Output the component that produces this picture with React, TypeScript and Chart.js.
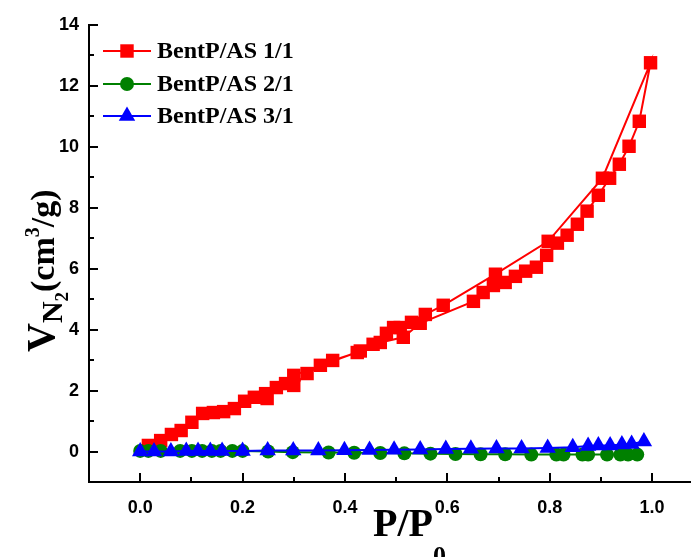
import React, { useEffect, useRef } from 'react';
import { Chart, registerables } from 'chart.js';

Chart.register(...registerables);

// ---- data ----
const seriesNames = ['BentP/AS 1/1', 'BentP/AS 2/1', 'BentP/AS 3/1'];
const seriesColors = ['#ff0000', '#008000', '#0000ff'];

const xMajorTicks = [0, 0.2, 0.4, 0.6, 0.8, 1.0];
const xMinorTicks = [0.1, 0.3, 0.5, 0.7, 0.9];
const yMajorTicks = [0, 2, 4, 6, 8, 10, 12, 14];
const yMinorTicks = [1, 3, 5, 7, 9, 11, 13];

// BentP/AS 1/1 adsorption branch
const redAdsX = [0.016, 0.04, 0.061, 0.08, 0.101, 0.122, 0.143, 0.163, 0.184, 0.204, 0.223, 0.248, 0.266, 0.284, 0.3, 0.326, 0.352, 0.376, 0.424, 0.455, 0.469, 0.514, 0.547, 0.651, 0.67, 0.69, 0.713, 0.733, 0.753, 0.774, 0.794, 0.815, 0.834, 0.854, 0.873, 0.895, 0.917, 0.936, 0.955, 0.975, 0.997];
const redAdsY = [0.2, 0.36, 0.56, 0.69, 0.96, 1.25, 1.28, 1.31, 1.41, 1.65, 1.78, 1.74, 2.1, 2.23, 2.17, 2.56, 2.83, 2.99, 3.25, 3.52, 3.58, 3.75, 4.21, 4.93, 5.22, 5.45, 5.55, 5.75, 5.92, 6.05, 6.44, 6.84, 7.1, 7.46, 7.89, 8.41, 8.97, 9.43, 10.02, 10.84, 12.76];
// BentP/AS 1/1 desorption branch
const redDesX = [0.903, 0.797, 0.694, 0.592, 0.557, 0.53, 0.508, 0.495, 0.481, 0.43, 0.3, 0.245];
const redDesY = [8.97, 6.9, 5.82, 4.8, 4.5, 4.24, 4.07, 4.07, 3.88, 3.3, 2.5, 1.9];

// BentP/AS 2/1
const greenX = [0.0, 0.016, 0.04, 0.078, 0.101, 0.121, 0.14, 0.157, 0.18, 0.2, 0.25, 0.298, 0.368, 0.418, 0.469, 0.516, 0.567, 0.616, 0.665, 0.713, 0.764, 0.813, 0.827, 0.864, 0.875, 0.912, 0.938, 0.953, 0.971];
const greenY = [0.02, 0.02, 0.02, 0.02, 0.02, 0.02, 0.02, 0.02, 0.02, 0.02, 0.0, -0.02, -0.03, -0.04, -0.05, -0.06, -0.07, -0.08, -0.09, -0.09, -0.1, -0.1, -0.1, -0.1, -0.1, -0.1, -0.1, -0.1, -0.1];

// BentP/AS 3/1
const blueX = [0.0, 0.027, 0.06, 0.09, 0.113, 0.137, 0.16, 0.2, 0.249, 0.299, 0.348, 0.399, 0.448, 0.496, 0.547, 0.597, 0.646, 0.696, 0.745, 0.796, 0.845, 0.875, 0.895, 0.918, 0.941, 0.96, 0.984];
const blueY = [0.0, 0.0, 0.0, 0.02, 0.02, 0.02, 0.02, 0.02, 0.03, 0.03, 0.03, 0.04, 0.05, 0.06, 0.07, 0.08, 0.09, 0.1, 0.1, 0.12, 0.14, 0.18, 0.2, 0.2, 0.23, 0.25, 0.33];

const zip = (xs: number[], ys: number[]) => xs.map((x, i) => ({ x, y: ys[i] }));

const SERIF = '"Liberation Serif", "Times New Roman", serif';
const SANS = '"Liberation Sans", Arial, sans-serif';

function drawMarker(ctx: CanvasRenderingContext2D, style: string, x: number, y: number, r: number) {
  ctx.beginPath();
  if (style === 'rect') {
    const s = Math.SQRT1_2 * r;
    ctx.rect(x - s, y - s, 2 * s, 2 * s);
  } else if (style === 'circle') {
    ctx.arc(x, y, r, 0, Math.PI * 2);
  } else {
    ctx.moveTo(x, y - r);
    ctx.lineTo(x + Math.sin((2 * Math.PI) / 3) * r, y + r / 2);
    ctx.lineTo(x - Math.sin((2 * Math.PI) / 3) * r, y + r / 2);
    ctx.closePath();
  }
  ctx.fill();
}

const pointStyles = ['rect', 'circle', 'triangle'];
const pointRadii = [9.5, 7, 9.5];

const inwardTicks = {
  id: 'inwardTicks',
  afterDraw(chart: any) {
    const { ctx, chartArea, scales } = chart;
    ctx.save();
    ctx.strokeStyle = '#000';
    ctx.lineWidth = 2;
    const xs = scales.x, ys = scales.y;
    const tick = (vals: number[], len: number, horiz: boolean) => {
      vals.forEach((v) => {
        ctx.beginPath();
        if (horiz) {
          const px = Math.round(xs.getPixelForValue(v));
          ctx.moveTo(px, chartArea.bottom);
          ctx.lineTo(px, chartArea.bottom - len);
        } else {
          const py = Math.round(ys.getPixelForValue(v));
          ctx.moveTo(chartArea.left, py);
          ctx.lineTo(chartArea.left + len, py);
        }
        ctx.stroke();
      });
    };
    tick(xMajorTicks, 9, true);
    tick(xMinorTicks, 5, true);
    tick(yMajorTicks, 9, false);
    tick(yMinorTicks, 5, false);
    ctx.restore();
  },
};

const customLegend = {
  id: 'customLegend',
  afterDraw(chart: any) {
    const { ctx } = chart;
    const rows = [51, 84, 116];
    ctx.save();
    seriesNames.forEach((name, i) => {
      const y = rows[i];
      ctx.strokeStyle = seriesColors[i];
      ctx.fillStyle = seriesColors[i];
      ctx.lineWidth = 2;
      ctx.beginPath();
      ctx.moveTo(103, y);
      ctx.lineTo(151, y);
      ctx.stroke();
      drawMarker(ctx, pointStyles[i], 127, y, pointRadii[i]);
      ctx.fillStyle = '#000';
      ctx.font = `bold 24px ${SERIF}`;
      ctx.textAlign = 'left';
      ctx.textBaseline = 'middle';
      ctx.fillText(name, 157, y + 1);
    });
    ctx.restore();
  },
};

const axisTitles = {
  id: 'axisTitles',
  afterDraw(chart: any) {
    const { ctx } = chart;
    ctx.save();
    ctx.fillStyle = '#000';
    ctx.textAlign = 'left';
    ctx.textBaseline = 'alphabetic';
    // x title: P/P0
    ctx.font = `bold 40px ${SERIF}`;
    let x = 373;
    const base = 536;
    ctx.fillText('P/P', x, base);
    x += ctx.measureText('P/P').width;
    ctx.font = `bold 26px ${SERIF}`;
    ctx.fillText('0', x, base + 28);

    // y title: V N2 (cm3/g) rotated
    ctx.translate(54, 352);
    ctx.rotate(-Math.PI / 2);
    let p = 0;
    const part = (t: string, size: number, dy: number) => {
      ctx.font = `bold ${size}px ${SERIF}`;
      ctx.fillText(t, p, dy);
      p += ctx.measureText(t).width;
    };
    part('V', 40, 0);
    part('N', 30, 8);
    part('2', 19, 14);
    part('(cm', 34, 0);
    part('3', 20, -15);
    part('/g)', 34, 0);
    ctx.restore();
  },
};

export default function App() {
  const ref = useRef<HTMLCanvasElement>(null);
  useEffect(() => {
    if (!ref.current) return;
    const redData = [...zip(redAdsX, redAdsY), ...zip(redDesX, redDesY)];
    const chart = new Chart(ref.current, {
      type: 'line',
      data: {
        datasets: [
          {
            label: seriesNames[0],
            data: redData,
            borderColor: seriesColors[0],
            backgroundColor: seriesColors[0],
            borderWidth: 2,
            pointStyle: 'rect',
            pointRadius: pointRadii[0],
            pointBorderWidth: 0,
            tension: 0,
            order: 3,
          },
          {
            label: seriesNames[1],
            data: zip(greenX, greenY),
            borderColor: seriesColors[1],
            backgroundColor: seriesColors[1],
            borderWidth: 2,
            pointStyle: 'circle',
            pointRadius: pointRadii[1],
            pointBorderWidth: 0,
            tension: 0,
            order: 2,
          },
          {
            label: seriesNames[2],
            data: zip(blueX, blueY),
            borderColor: seriesColors[2],
            backgroundColor: seriesColors[2],
            borderWidth: 2,
            pointStyle: 'triangle',
            pointRadius: pointRadii[2],
            pointBorderWidth: 0,
            tension: 0,
            order: 1,
          },
        ],
      },
      options: {
        responsive: false,
        animation: false,
        layout: { autoPadding: false, padding: { left: 0, top: 25, right: 0, bottom: 0 } },
        plugins: { legend: { display: false }, tooltip: { enabled: false } },
        scales: {
          x: {
            type: 'linear',
            min: -0.1,
            max: 1.076,
            grid: { display: false, drawTicks: false },
            border: { display: true, color: '#000', width: 2 },
            afterBuildTicks: (s: any) => {
              s.ticks = xMajorTicks.map((v) => ({ value: v }));
            },
            afterFit: (s: any) => {
              s.height = 75;
              s.paddingLeft = 0;
              s.paddingRight = 0;
            },
            ticks: {
              color: '#000',
              font: { family: SANS, size: 18, weight: 'bold' },
              padding: 15,
              maxRotation: 0,
              callback: (v: any) => Number(v).toFixed(1),
            },
          },
          y: {
            type: 'linear',
            min: -1,
            max: 14,
            grid: { display: false, drawTicks: false },
            border: { display: true, color: '#000', width: 2 },
            afterBuildTicks: (s: any) => {
              s.ticks = yMajorTicks.map((v) => ({ value: v }));
            },
            afterFit: (s: any) => {
              s.width = 89;
              s.paddingTop = 0;
              s.paddingBottom = 0;
            },
            ticks: {
              color: '#000',
              font: { family: SANS, size: 18, weight: 'bold' },
              padding: 10,
              callback: (v: any) => String(v),
            },
          },
        },
      },
      plugins: [inwardTicks, customLegend, axisTitles],
    });
    return () => chart.destroy();
  }, []);
  return (
    <div style={{ position: 'fixed', left: 0, top: 0, width: 691, height: 557, background: '#fff' }}>
      <canvas ref={ref} width={691} height={557} style={{ display: 'block' }} />
    </div>
  );
}
